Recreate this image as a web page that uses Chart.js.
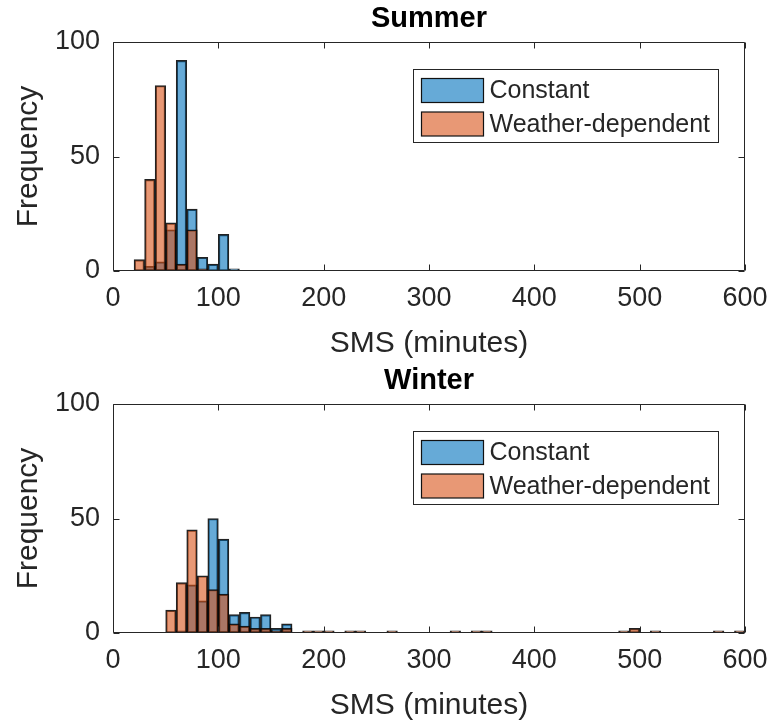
<!DOCTYPE html>
<html>
<head>
<meta charset="utf-8">
<script src="https://cdn.jsdelivr.net/npm/chart.js@4/dist/chart.umd.min.js"></script>
<style>
  html, body { margin: 0; padding: 0; background: #fff; overflow: hidden; }
  .panel { position: absolute; left: 0; width: 768px; height: 362px; }
</style>
</head>
<body>
<div class="panel" style="top:0px"><canvas id="summer" width="768" height="362"></canvas></div>
<div class="panel" style="top:362px"><canvas id="winter" width="768" height="362"></canvas></div>
<script>
// Histogram bin centres (10-minute bins) and counts per season
const seriesNames = ['Constant', 'Weather-dependent'];

const summerBins     = [25, 35, 45, 55, 65, 75, 85, 95, 105, 115];
const summerConstant = [0, 2, 4, 18, 92, 27, 6, 3, 16, 1];
const summerWeather  = [5, 40, 81, 21, 3, 18, 1, 0, 0, 0];

const winterBins     = [55, 65, 75, 85, 95, 105, 115, 125, 135, 145, 155, 165,
                        185, 195, 205, 225, 235, 265, 325, 345, 355, 485, 495, 515, 575, 595];
const winterConstant = [0, 1, 21, 14, 50, 41, 8, 9, 7, 8, 2, 4,
                        0, 0, 0, 0, 0, 0, 0, 0, 0, 0, 0, 0, 0, 0];
const winterWeather  = [10, 22, 45, 25, 19, 17, 4, 3, 2, 2, 1, 2,
                        1, 1, 1, 1, 1, 1, 1, 1, 1, 1, 2, 1, 1, 1];

const xTicks = [0, 100, 200, 300, 400, 500, 600];
const yTicks = [0, 50, 100];

const FONT = '"Liberation Sans", Arial, Helvetica, sans-serif';
const AXIS_COLOR = '#262626';
const FILLS = ['rgba(0,114,189,0.6)', 'rgba(217,83,25,0.6)'];

// Box around the axes with inward tick marks (top/bottom, left/right)
const axesBox = {
  id: 'axesBox',
  afterDatasetsDraw(chart) {
    const { ctx, chartArea: a, scales } = chart;
    const L = Math.round(a.left) + 0.5, R = Math.round(a.right) - 0.5;
    const T = Math.round(a.top) + 0.5, B = Math.round(a.bottom) - 0.5;
    const len = 6;
    ctx.save();
    ctx.strokeStyle = AXIS_COLOR;
    ctx.lineWidth = 1;
    ctx.beginPath();
    ctx.rect(L, T, R - L, B - T);
    xTicks.forEach(v => {
      const px = Math.round(scales.x.getPixelForValue(v)) + 0.5;
      ctx.moveTo(px, B); ctx.lineTo(px, B - len);
      ctx.moveTo(px, T); ctx.lineTo(px, T + len);
    });
    yTicks.forEach(v => {
      const py = Math.round(scales.y.getPixelForValue(v)) + 0.5;
      ctx.moveTo(L, py); ctx.lineTo(L + len, py);
      ctx.moveTo(R, py); ctx.lineTo(R - len, py);
    });
    ctx.stroke();
    ctx.restore();
  }
};

// Boxed legend in the upper right of the plot area
const boxLegend = {
  id: 'boxLegend',
  afterDraw(chart) {
    const { ctx, chartArea: a } = chart;
    const x0 = a.left + 300.5, y0 = a.top + 27.5, w = 305, h = 73;
    ctx.save();
    ctx.fillStyle = '#fff';
    ctx.fillRect(x0, y0, w, h);
    ctx.strokeStyle = AXIS_COLOR;
    ctx.lineWidth = 1;
    ctx.strokeRect(x0, y0, w, h);
    ctx.font = '25px ' + FONT;
    ctx.textBaseline = 'middle';
    ctx.textAlign = 'left';
    chart.data.datasets.forEach((ds, i) => {
      const py = y0 + 9 + i * 33.5;
      ctx.fillStyle = '#fff';
      ctx.fillRect(x0 + 8, py, 62, 24);
      ctx.fillStyle = ds.backgroundColor;
      ctx.fillRect(x0 + 8, py, 62, 24);
      ctx.strokeStyle = '#111';
      ctx.lineWidth = 1.2;
      ctx.strokeRect(x0 + 8, py, 62, 24);
      ctx.fillStyle = AXIS_COLOR;
      ctx.fillText(ds.label, x0 + 76, py + 13);
    });
    ctx.restore();
  }
};

function makeChart(id, title, bins, constant, weather) {
  const toPts = vals => bins.map((b, i) => ({ x: b, y: vals[i] }));
  return new Chart(document.getElementById(id), {
    type: 'bar',
    data: {
      datasets: [
        { label: seriesNames[0], data: toPts(constant), backgroundColor: FILLS[0],
          borderColor: 'rgba(10,10,10,0.9)', borderWidth: 1.5, borderSkipped: false,
          grouped: false, barPercentage: 1, categoryPercentage: 1, order: 2 },
        { label: seriesNames[1], data: toPts(weather), backgroundColor: FILLS[1],
          borderColor: 'rgba(10,10,10,0.9)', borderWidth: 1.5, borderSkipped: false,
          grouped: false, barPercentage: 1, categoryPercentage: 1, order: 1 }
      ]
    },
    options: {
      responsive: false,
      animation: false,
      layout: { padding: { left: 0, right: 23, top: 0, bottom: 0 } },
      plugins: {
        legend: { display: false },
        tooltip: { enabled: false },
        title: {
          display: true, text: title, fullSize: false, color: '#000',
          font: { family: FONT, size: 29, weight: 'bold', lineHeight: 1 },
          padding: { top: 4, bottom: 9 }
        }
      },
      scales: {
        x: {
          type: 'linear', min: 0, max: 600, offset: false,
          afterBuildTicks: s => { s.ticks = xTicks.map(v => ({ value: v })); },
          ticks: { color: AXIS_COLOR, font: { family: FONT, size: 27 }, padding: 11, maxRotation: 0 },
          grid: { display: false, drawTicks: false },
          border: { display: false },
          title: { display: true, text: 'SMS (minutes)', color: AXIS_COLOR,
                   font: { family: FONT, size: 30 }, padding: { top: 0, bottom: 0 } },
          afterFit: s => { s.height = 91; s.paddingLeft = 0; s.paddingRight = 0; }
        },
        y: {
          min: 0, max: 100,
          afterBuildTicks: s => { s.ticks = yTicks.map(v => ({ value: v })); },
          ticks: { color: AXIS_COLOR, font: { family: FONT, size: 27 }, padding: 13 },
          grid: { display: false, drawTicks: false },
          border: { display: false },
          title: { display: true, text: 'Frequency', color: AXIS_COLOR,
                   font: { family: FONT, size: 30 }, padding: { top: 11, bottom: 0 } },
          afterFit: s => { s.width = 113; s.paddingTop = 0; s.paddingBottom = 0; }
        }
      }
    },
    plugins: [axesBox, boxLegend]
  });
}

makeChart('summer', 'Summer', summerBins, summerConstant, summerWeather);
makeChart('winter', 'Winter', winterBins, winterConstant, winterWeather);
</script>
</body>
</html>
